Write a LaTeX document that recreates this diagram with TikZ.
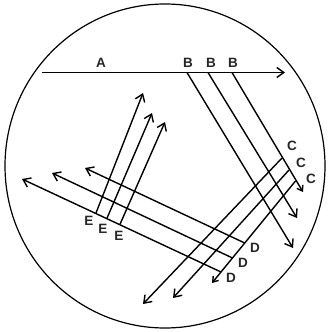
\documentclass[tikz,border=0pt]{standalone}
\usepackage{fontspec}
\setmainfont{Liberation Sans}
\usetikzlibrary{arrows.meta}
\begin{document}
\begin{tikzpicture}[x=1pt,y=-1pt,
  ray/.style={line width=1.4pt,-{Straight Barb[length=7pt,width=10pt,line width=1.4pt]}},
  smallray/.style={line width=1.4pt,-{Straight Barb[length=5pt,width=7pt,line width=1.4pt]}},
  lab/.style={font=\fontsize{13.5}{13.5}\selectfont\bfseries, inner sep=0pt, text=black!85}]
\useasboundingbox (0,0) rectangle (329,332);
\fill[white] (0,0) rectangle (329,332);
\draw[line width=1.2pt] (165,166) ellipse [x radius=160, y radius=162];
% A line
\coordinate (a0) at (42,72.5);
\coordinate (a1) at (285,72.5);
\draw[ray] (a0) -- (a1);
\node[lab] (la) at (101,63) {A};
% B lines
\coordinate (b1s) at (187,72.5); \coordinate (b1e) at (293,248);
\coordinate (b2s) at (208,72.5); \coordinate (b2e) at (297,218);
\coordinate (b3s) at (232,72.5); \coordinate (b3e) at (303,192);
\draw[ray] (b1s) -- (b1e);
\draw[ray] (b2s) -- (b2e);
\draw[smallray] (b3s) -- (b3e);
\node[lab] (lb1) at (188,63) {B};
\node[lab] (lb2) at (211,63) {B};
\node[lab] (lb3) at (233,63) {B};
% C lines
\coordinate (c1s) at (282,158); \coordinate (c1e) at (143,304);
\coordinate (c2s) at (289,170); \coordinate (c2e) at (173,298);
\coordinate (c3s) at (295.5,181); \coordinate (c3e) at (212,283);
\draw[ray] (c1s) -- (c1e);
\draw[ray] (c2s) -- (c2e);
\draw[smallray] (c3s) -- (c3e);
\node[lab] (lc1) at (292,146) {C};
\node[lab] (lc2) at (301,163) {C};
\node[lab] (lc3) at (311,179) {C};
% D lines
\coordinate (d1s) at (244.7,243); \coordinate (d1e) at (85,168);
\coordinate (d2s) at (232.5,258); \coordinate (d2e) at (52,173);
\coordinate (d3s) at (221,272); \coordinate (d3e) at (22,179);
\draw[ray] (d1s) -- (d1e);
\draw[ray] (d2s) -- (d2e);
\draw[ray] (d3s) -- (d3e);
\node[lab] (ld1) at (255,248) {D};
\node[lab] (ld2) at (243,263) {D};
\node[lab] (ld3) at (231,278) {D};
% E lines
\coordinate (e1s) at (96,213); \coordinate (e1e) at (143,93);
\coordinate (e2s) at (107,218.2); \coordinate (e2e) at (152,113);
\coordinate (e3s) at (120,224.3); \coordinate (e3e) at (165,122);
\draw[ray] (e1s) -- (e1e);
\draw[ray] (e2s) -- (e2e);
\draw[ray] (e3s) -- (e3e);
\node[lab] (le1) at (89,221) {E};
\node[lab] (le2) at (103,229) {E};
\node[lab] (le3) at (119,236) {E};
\end{tikzpicture}
\end{document}
